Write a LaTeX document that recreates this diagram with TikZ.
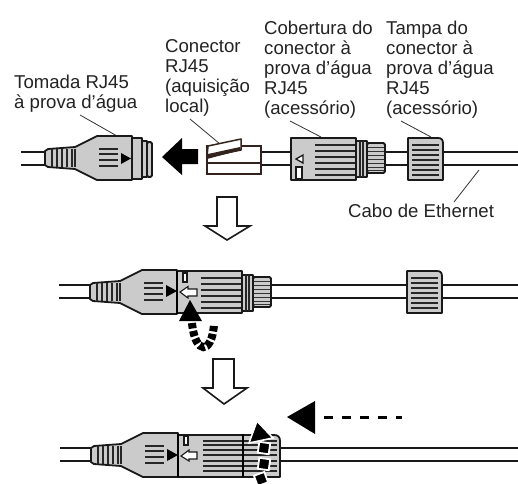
\documentclass[tikz,border=0pt]{standalone}
\usepackage{fontspec}
\setmainfont{Liberation Sans}
\usepackage{xcolor}
\definecolor{bodygray}{RGB}{203,203,203}
\definecolor{plugbrown}{RGB}{50,35,30}
\definecolor{textgray}{RGB}{35,35,35}

\tikzset{
  label/.style={anchor=north west, inner sep=0pt, align=left, text=textgray, font=\fontsize{18.6}{20}\selectfont},
  leader/.style={line width=0.8pt, black!80},
  cable/.style={line width=1.7pt, black!90},
  outline/.style={line width=1.8pt, black!90, fill=bodygray, line join=round},
  rib/.style={line width=1.2pt, black!85},
  openarrow/.style={line width=1.6pt, black!90, fill=white, line join=miter},
  pics/jackbody/.style={code={
    \draw[outline] (45,151) -- (48,149) -- (75,147) -- (97,136) -- (132,136)
      -- (132,180) -- (97,180) -- (75,169) -- (48,167) -- (45,165) -- cycle;
    \foreach \x in {52,57,62,67,72,75} {
      \draw[rib] (\x,149) -- (\x,167);
    }
    \foreach \y in {149,154,160,166} {
      \draw[rib] (99,\y) -- (118,\y);
    }
  }},
  pics/coverbody/.style={code={
    \draw[outline] (291,138) rectangle (356,180);
    \foreach \y in {145,151,157,163,169,175} {
      \draw[rib] (315,\y) -- (356,\y);
    }
  }},
  pics/glandbody/.style={code={
    \draw[outline] (356,141) rectangle (367,177);
    \draw[outline, rounded corners=1.5pt] (367,143) -- (385,143) -- (385,173) -- (367,173) -- cycle;
    \foreach \x in {360,363} {
      \draw[rib] (\x,141) -- (\x,177);
    }
    \foreach \y in {147,151,155,159,163,167,170} {
      \draw[line width=0.9pt, black!80] (368,\y) -- (384,\y);
    }
  }},
  pics/capbody/.style={code={
    \draw[outline] (408,138) -- (438,138) .. controls (442,138) and (443,140) .. (443,144) -- (443,180) -- (408,180) -- cycle;
    \foreach \y in {145,150,155,160,165,170,175} {
      \draw[rib] (412,\y) -- (439,\y);
    }
  }}
}

\begin{document}
\begin{tikzpicture}[x=1pt, y=-1pt]

% Background
\fill[white] (0,0) rectangle (518,483);
\useasboundingbox (0,0) rectangle (518,483);

% Labels
\node[label] (tomadalabel) at (14,75) {Tomada RJ45\\à prova d’água};
\node[label] (conectorlabel) at (165,39) {Conector\\RJ45\\(aquisição\\local)};
\node[label] (coberturalabel) at (264,20.5) {Cobertura do\\conector à\\prova d’água\\RJ45\\(acessório)};
\node[label] (tampalabel) at (386,20.5) {Tampa do\\conector à\\prova d’água\\RJ45\\(acessório)};
\node[label] (cabolabel) at (348,204) {Cabo de Ethernet};

% Leader ends
\coordinate (tomadaend) at (117,136);
\coordinate (conectorend) at (220,144);
\coordinate (coberturaend) at (321,137);
\coordinate (tampaend) at (431,137);
\coordinate (caboend) at (479,170);
\coordinate (tomadastart) at (80,115);
\coordinate (conectorstart) at (190,119);
\coordinate (coberturastart) at (290,121);
\coordinate (tampastart) at (401,121);
\coordinate (cabostart) at (454,202);
\foreach \p in {tomada,conector,cobertura,tampa,cabo} {
    \draw[leader] (\p start) -- (\p end);
}

% First row: cables
\foreach \y in {152,165} {
    \draw[cable] (21,\y) -- (46,\y);
    \draw[cable] (260,\y) -- (292,\y);
    \draw[cable] (385,\y) -- (518,\y);
}

% First row: socket
\pic at (0,0) {jackbody};
\draw[outline] (132,138) rectangle (142,179);
\draw[outline] (142,141) rectangle (147,177);
\draw[outline, rounded corners=1.5pt] (147,142) -- (152,142) -- (152,177) -- (147,177) -- cycle;
\fill[black] (121,153) -- (131,158.5) -- (121,164) -- cycle;

% Black arrow
\fill[black] (162,157) -- (182,138) -- (182,149) -- (198,149) -- (198,164) -- (182,164) -- (182,175) -- cycle;

% Plug
\draw[line width=1.5pt, plugbrown, fill=white] (207,146) rectangle (261,174);
\draw[line width=1.5pt, plugbrown] (207,163) -- (261,163);
\draw[line width=1.5pt, plugbrown, fill=white, line join=round] (207,157) -- (208,146) -- (241,139) -- (241,150) -- cycle;
\fill[plugbrown] (208,154) -- (240,147) -- (241,150) -- (207,159) -- cycle;

% Cover and cap
\pic at (0,0) {coverbody};
\pic at (0,0) {glandbody};
\pic at (0,0) {capbody};
\draw[line width=1.3pt, black!90, fill=white] (303,155) -- (296,159) -- (303,163) -- cycle;
\draw[line width=1.2pt, black!90, fill=white] (296,167) rectangle (302,179);

% Open arrow 1
\draw[openarrow] (217,197) -- (237,197) -- (237,226) -- (250,226) -- (227,240) -- (205,226) -- (217,226) -- cycle;

% Second row
\foreach \y in {285,298} {
    \draw[cable] (59,\y) -- (91,\y);
    \draw[cable] (270,\y) -- (518,\y);
}
\pic at (45,134) {jackbody};
\pic at (-114,133) {coverbody};
\pic at (-114,134) {glandbody};
\pic at (-1,133) {capbody};
\draw[line width=2pt, black] (177,271) -- (177,314);
\fill[black] (166,285) -- (177,291) -- (166,297) -- cycle;
\draw[line width=1.1pt, black!90, fill=white] (183,273) rectangle (187,282);
\draw[line width=1.1pt, black!90, fill=white] (180,292) -- (188,286.5) -- (188,289) -- (197,289) -- (197,296) -- (188,296) -- (188,298) -- cycle;
\draw[line width=8pt, black, dash pattern=on 5.5pt off 2.5pt] (192,323) .. controls (195,355) and (212,355) .. (214,324);
\fill[black] (190,300) -- (202,321) -- (179,321) -- cycle;

% Open arrow 2
\draw[openarrow] (213,359) -- (234,359) -- (234,388) -- (247,388) -- (224,404) -- (203,388) -- (213,388) -- cycle;

% Third row
\foreach \y in {448,461} {
    \draw[cable] (60,\y) -- (92,\y);
    \draw[cable] (279,\y) -- (518,\y);
}
\pic at (46,297) {jackbody};
\draw[outline] (178,435) -- (274,435) .. controls (278,435) and (280,437) .. (280,441) -- (280,477) -- (178,477) -- cycle;
\foreach \y in {441,445,450,455,461,466,471} {
    \draw[rib] (203,\y) -- (277,\y);
}
\draw[line width=2pt, black] (178,434) -- (178,477);
\draw[line width=2pt, black] (243,434) -- (243,477);
\fill[black] (167,449) -- (178,455) -- (167,461) -- cycle;
\draw[line width=1.1pt, black!90, fill=white] (184,436) rectangle (188,445);
\draw[line width=1.1pt, black!90, fill=white] (181,456) -- (189,450) -- (189,452) -- (197,452) -- (197,459) -- (189,459) -- (189,461) -- cycle;

% Arrow over the cap
\draw[line width=1.6pt, white, fill=black, line join=miter] (257,421) -- (273,438) -- (249,443) -- cycle;
\foreach \x/\y/\a in {264/448/-8,264/464/-8,261/479/20} {
    \draw[line width=1.8pt, white, fill=black, rotate around={\a:(\x,\y)}] (\x-5.5,\y-5.5) rectangle (\x+5.5,\y+5.5);
}

% Push arrow
\fill[black] (287,417) -- (315,401) -- (315,434) -- cycle;
\draw[line width=3pt, black, dash pattern=on 9pt off 9pt] (324,417) -- (402,417);

\end{tikzpicture}
\end{document}
